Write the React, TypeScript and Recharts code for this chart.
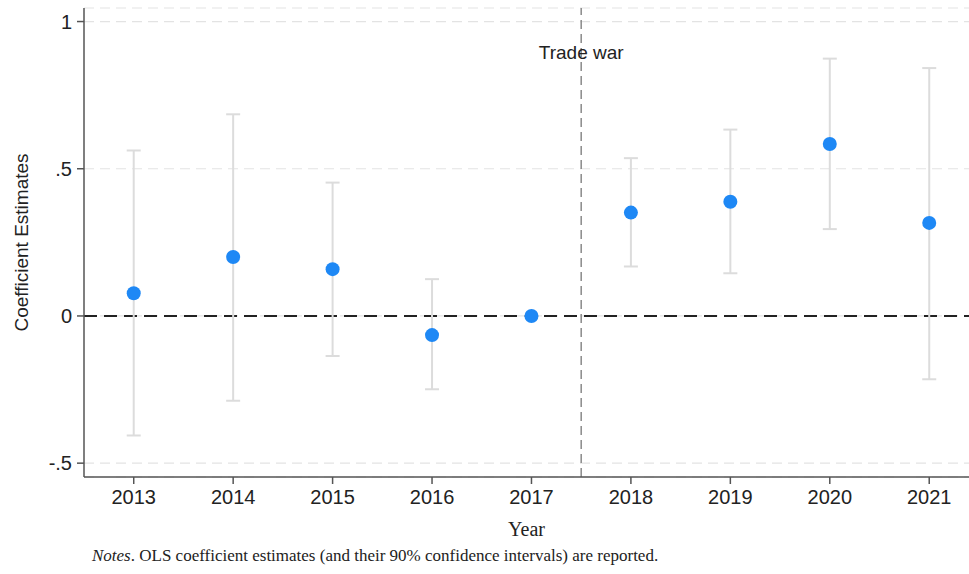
import React from "react";
import {
  CartesianGrid,
  ErrorBar,
  ReferenceLine,
  Scatter,
  ScatterChart,
  XAxis,
  YAxis,
} from "recharts";

const years = [2013, 2014, 2015, 2016, 2017, 2018, 2019, 2020, 2021];
const estimates = [0.077, 0.2, 0.159, -0.065, 0, 0.351, 0.388, 0.584, 0.316];
const ciLower = [-0.406, -0.288, -0.136, -0.249, 0, 0.168, 0.145, 0.295, -0.215];
const ciUpper = [0.562, 0.685, 0.453, 0.125, 0, 0.536, 0.633, 0.874, 0.842];
const yTicks = [-0.5, 0, 0.5, 1];

const rows = years.map((year, i) => ({
  year,
  est: estimates[i],
  err: [estimates[i] - ciLower[i], ciUpper[i] - estimates[i]],
}));

const sans = "'Liberation Sans', Arial, sans-serif";
const serif = "'Liberation Serif', 'Times New Roman', serif";

const fmtY = (v: number) => {
  if (v === 0) return "0";
  if (v === 1) return "1";
  return v < 0 ? "-." + String(Math.abs(v)).split(".")[1] : "." + String(v).split(".")[1];
};

const Dot = (props: any) => <circle cx={props.cx} cy={props.cy} r={7} fill="#1e88f5" />;

export default function App() {
  return (
    <div style={{ position: "absolute", left: 0, top: 0, width: 969, height: 574, background: "#fff" }}>
      <ScatterChart width={969} height={574} margin={{ top: 8, right: 0, bottom: 57, left: 24 }}>
        <CartesianGrid
          horizontal
          vertical={false}
          stroke="#e3e3e3"
          strokeDasharray="10 6"
          strokeWidth={1.2}
        />
        <XAxis
          type="number"
          dataKey="year"
          domain={[2012.5, 2021.4]}
          ticks={years}
          allowDataOverflow
          height={40}
          axisLine={{ stroke: "#555", strokeWidth: 1.5 }}
          tickLine={{ stroke: "#555", strokeWidth: 1.5 }}
          tickSize={7}
          tickMargin={6}
          tick={{ fill: "#222", fontSize: 20, fontFamily: sans }}
          label={{
            value: "Year",
            position: "insideBottom",
            offset: -19,
            style: { fill: "#222", fontSize: 20, fontFamily: serif },
          }}
        />
        <YAxis
          type="number"
          dataKey="est"
          domain={[-0.547, 1.046]}
          ticks={yTicks}
          allowDataOverflow
          width={60}
          tickFormatter={fmtY}
          axisLine={{ stroke: "#555", strokeWidth: 1.5 }}
          tickLine={{ stroke: "#555", strokeWidth: 1.5 }}
          tickSize={7}
          tickMargin={5}
          tick={{ fill: "#222", fontSize: 20, fontFamily: sans }}
          label={{
            value: "Coefficient Estimates",
            angle: -90,
            position: "insideLeft",
            offset: -3,
            style: { fill: "#222", fontSize: 19, fontFamily: sans, textAnchor: "middle" },
          }}
        />
        <ReferenceLine y={0} stroke="#222" strokeWidth={2} strokeDasharray="13 7" />
        <ReferenceLine
          x={2017.5}
          stroke="#8a8a8a"
          strokeWidth={1.5}
          strokeDasharray="9 5"
          label={{
            value: "Trade war",
            position: "insideTop",
            offset: 38,
            style: { fill: "#222", fontSize: 19, fontFamily: sans },
          }}
        />
        <Scatter data={rows} fill="#1e88f5" isAnimationActive={false} shape={Dot}>
          <ErrorBar dataKey="err" direction="y" width={7} stroke="#dcdcdc" strokeWidth={2} />
        </Scatter>
      </ScatterChart>
      <div
        style={{
          position: "absolute",
          left: 92,
          top: 546,
          fontFamily: serif,
          fontSize: 17,
          color: "#222",
          whiteSpace: "nowrap",
        }}
      >
        <i>Notes</i>. OLS coefficient estimates (and their 90% confidence intervals) are reported.
      </div>
    </div>
  );
}
